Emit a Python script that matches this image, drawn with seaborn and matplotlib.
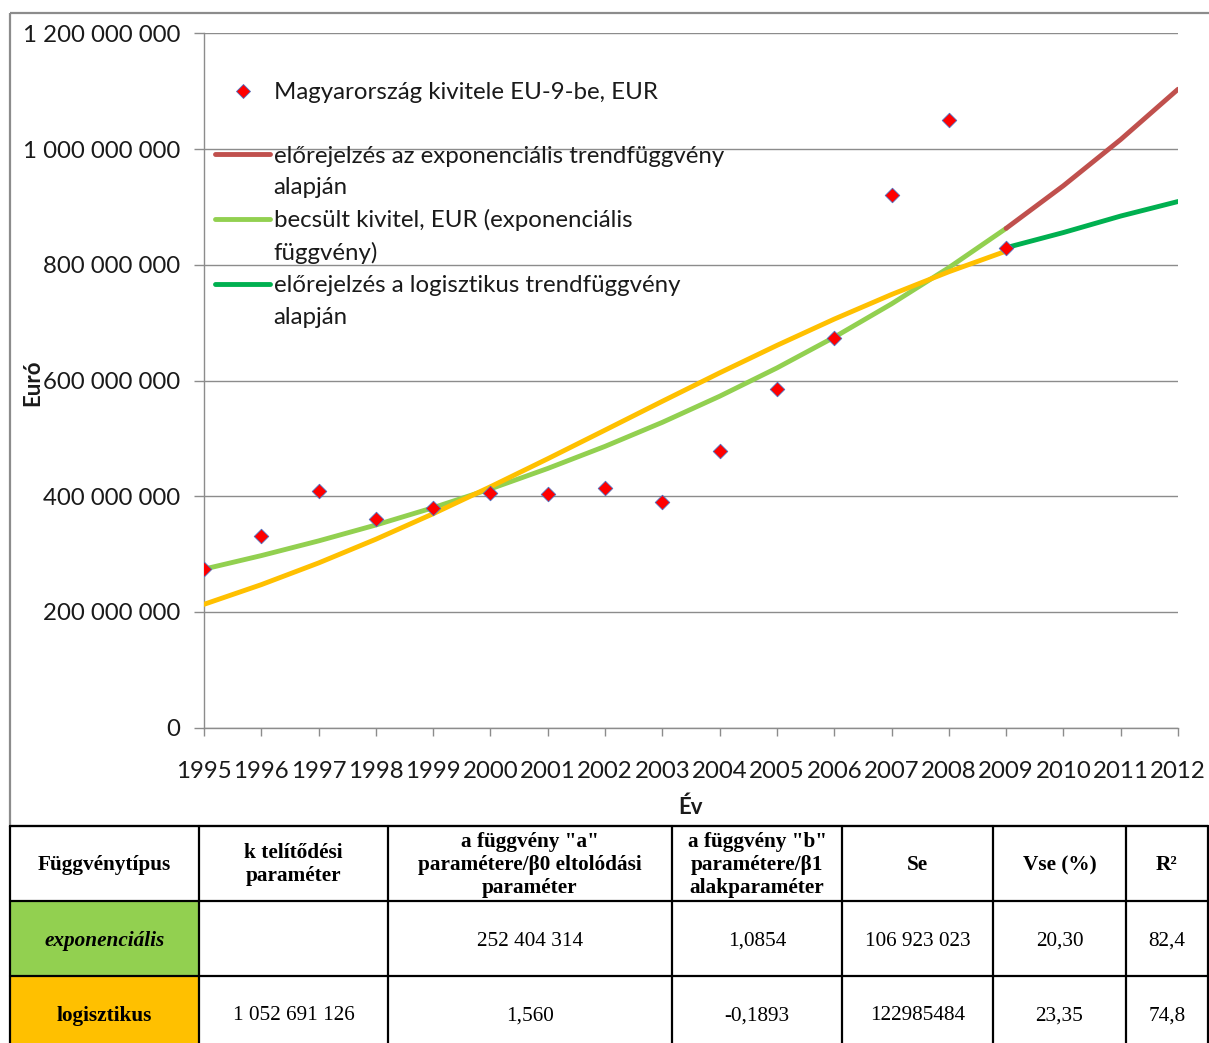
import numpy as np
import matplotlib
matplotlib.use("Agg")
import matplotlib.pyplot as plt
import seaborn as sns
from matplotlib.lines import Line2D
from matplotlib.patches import Rectangle
from matplotlib.ticker import FuncFormatter, MultipleLocator

# ---------------------------------------------------------------- data
years = list(range(1995, 2010))
forecast_years = [2009, 2010, 2011, 2012]

# observed exports to the EU-9, million EUR
export_m = [273.7, 331.8, 409.0, 360.0, 380.0, 405.0, 404.0, 415.0, 390.0,
            478.0, 585.0, 673.0, 920.0, 1050.6, 829.5]
# exponential trend, fitted values (million EUR)
exp_fit_m = [274.0, 297.4, 322.8, 350.3, 380.2, 412.7, 448.0, 486.2, 527.7,
             572.8, 621.7, 674.8, 732.4, 795.0, 862.9]
# exponential trend, forecast (million EUR)
exp_forecast_m = [862.9, 936.6, 1016.5, 1103.3]
# logistic trend, fitted values (million EUR)
log_fit_m = [213.2, 247.2, 284.7, 325.7, 369.8, 416.4, 464.8, 514.3, 564.1,
             613.2, 660.7, 706.1, 748.6, 787.9, 823.6]
# logistic trend, forecast (million EUR)
log_forecast_m = [829.5, 855.7, 884.2, 909.3]

legend_lines = [
    "Magyarország kivitele EU-9-be, EUR", " ",
    "előrejelzés az exponenciális trendfüggvény", "alapján",
    "becsült kivitel, EUR (exponenciális", "függvény)",
    "előrejelzés a logisztikus trendfüggvény", "alapján",
]

table_header = ["Függvénytípus", "k telítődési\nparaméter",
                'a függvény "a"\nparamétere/β0 eltolódási\nparaméter',
                'a függvény "b"\nparamétere/β1\nalakparaméter',
                "Se", "Vse (%)", "R²"]
table_rows = [
    ["exponenciális", "", "252 404 314", "1,0854", "106 923 023", "20,30", "82,4"],
    ["logisztikus", "1 052 691 126", "1,560", "-0,1893", "122985484", "23,35", "74,8"],
]

# ---------------------------------------------------------------- style
C_OBS = "#FF0000"
C_OBS_EDGE = "#4F6FBF"
C_EXP_FIT = "#92D050"
C_EXP_FC = "#C0504D"
C_LOG_FIT = "#FFC000"
C_LOG_FC = "#00B050"
C_GRID = "#8C8C8C"
TXT = "#1A1A1A"
LW = 3.5
FS = 17.3

sns.set_style("white")
plt.rcParams["font.family"] = ["Lato", "DejaVu Sans"]

W, H = 1209, 1043
fig = plt.figure(figsize=(W / 100, H / 100), dpi=100)

# pixel-space layer for the chart frame and the parameter table
bg = fig.add_axes([0, 0, 1, 1], zorder=0)
bg.set_xlim(0, W)
bg.set_ylim(H, 0)
bg.axis("off")
bg.add_patch(Rectangle((10, 13), W + 20, 826 - 13, fill=False,
                       ec=C_GRID, lw=1.6))

# ---------------------------------------------------------------- chart
x0, x1, y_top, y_bot = 204, 1178, 33.3, 727.7
ax = fig.add_axes([x0 / W, 1 - y_bot / H, (x1 - x0) / W, (y_bot - y_top) / H],
                  zorder=2)
ax.patch.set_alpha(0)

M = 1e6
line_kw = dict(ax=ax, legend=False, lw=LW, solid_capstyle="round")
sns.lineplot(x=years, y=np.array(exp_fit_m) * M, color=C_EXP_FIT, zorder=3, **line_kw)
sns.lineplot(x=forecast_years, y=np.array(exp_forecast_m) * M, color=C_EXP_FC, zorder=3, **line_kw)
sns.lineplot(x=forecast_years, y=np.array(log_forecast_m) * M, color=C_LOG_FC, zorder=3, **line_kw)
sns.lineplot(x=years, y=np.array(log_fit_m) * M, color=C_LOG_FIT, zorder=4, **line_kw)
sns.scatterplot(x=years, y=np.array(export_m) * M, marker="D", s=55,
                color=C_OBS, edgecolor=C_OBS_EDGE, linewidth=0.6,
                zorder=6, ax=ax, legend=False)

ax.set_xlim(1995, 2012)
ax.set_ylim(0, 1.2e9)
ax.set_xticks(range(1995, 2013))
ax.yaxis.set_major_locator(MultipleLocator(2e8))
ax.yaxis.set_major_formatter(
    FuncFormatter(lambda v, p: f"{int(round(v)):,}".replace(",", " ")))
ax.grid(axis="y", color=C_GRID, lw=1.0)
ax.set_axisbelow(True)
for s in ("top", "right"):
    ax.spines[s].set_visible(False)
for s in ("left", "bottom"):
    ax.spines[s].set_color(C_GRID)
    ax.spines[s].set_linewidth(1.0)
ax.tick_params(axis="x", bottom=True, length=6, width=1, color=C_GRID,
               direction="out", pad=18, labelsize=FS, labelcolor=TXT)
ax.tick_params(axis="y", left=True, length=7, width=1, color=C_GRID,
               direction="out", pad=10, labelsize=FS, labelcolor=TXT)

ax.set_xlabel("Év", fontsize=16, fontweight="bold", color=TXT)
ax.xaxis.set_label_coords(0.5, -(807 - y_bot) / (y_bot - y_top))
ax.xaxis.label.set_va("center")
ax.set_ylabel("Euró", fontsize=16, fontweight="bold", color=TXT)
ax.yaxis.set_label_coords(-(x0 - 33) / (x1 - x0), (y_bot - 383) / (y_bot - y_top))
ax.yaxis.label.set_va("center")

# legend: one row per text line so wrapped labels keep their marker on line one
blank = Line2D([], [], ls="none")
handles = [
    Line2D([], [], ls="none", marker="D", ms=7.4, mfc=C_OBS, mec=C_OBS_EDGE, mew=0.6),
    blank,
    Line2D([], [], color=C_EXP_FC, lw=LW), blank,
    Line2D([], [], color=C_EXP_FIT, lw=LW), blank,
    Line2D([], [], color=C_LOG_FC, lw=LW), blank,
]
leg = ax.legend(handles, legend_lines, loc="upper left",
                bbox_to_anchor=(215 / W, 1 - 82 / H), bbox_transform=fig.transFigure,
                frameon=False, fontsize=FS, handlelength=2.3, handletextpad=0.14,
                labelspacing=0.45, borderpad=0, borderaxespad=0)
for t in leg.get_texts():
    t.set_color(TXT)

# ---------------------------------------------------------------- table
col_edges = [10, 199, 388, 672, 842, 993, 1126, 1208]
row_edges = [826, 901, 976, 1051]
fills = ["#92D050", "#FFC000"]
for r, fc in enumerate(fills):
    bg.add_patch(Rectangle((col_edges[0], row_edges[r + 1]),
                           col_edges[1] - col_edges[0],
                           row_edges[r + 2] - row_edges[r + 1],
                           fc=fc, ec="none", zorder=1))
for yy in row_edges:
    bg.plot([col_edges[0], col_edges[-1]], [yy, yy], color="black", lw=1.6, zorder=3)
for xx in col_edges:
    bg.plot([xx, xx], [row_edges[0], row_edges[-1]], color="black", lw=1.6, zorder=3)

serif = ["Liberation Serif", "DejaVu Serif"]
for c, txt in enumerate(table_header):
    cx = (col_edges[c] + col_edges[c + 1]) / 2
    cy = (row_edges[0] + row_edges[1]) / 2 + 1.5
    bg.text(cx, cy, txt, ha="center", va="center", family=serif,
            fontsize=15.3, fontweight="bold", color="black", linespacing=1.2, zorder=4)
for r, row in enumerate(table_rows):
    cy = (row_edges[r + 1] + row_edges[r + 2]) / 2 + 2.5
    for c, txt in enumerate(row):
        cx = (col_edges[c] + col_edges[c + 1]) / 2
        kw = dict(fontsize=15.3, color="black")
        if c == 0:
            kw["fontweight"] = "bold"
            if r == 0:
                kw["fontstyle"] = "italic"
        bg.text(cx, cy, txt, ha="center", va="center", family=serif, zorder=4, **kw)

fig.savefig("out.png", dpi=100)
